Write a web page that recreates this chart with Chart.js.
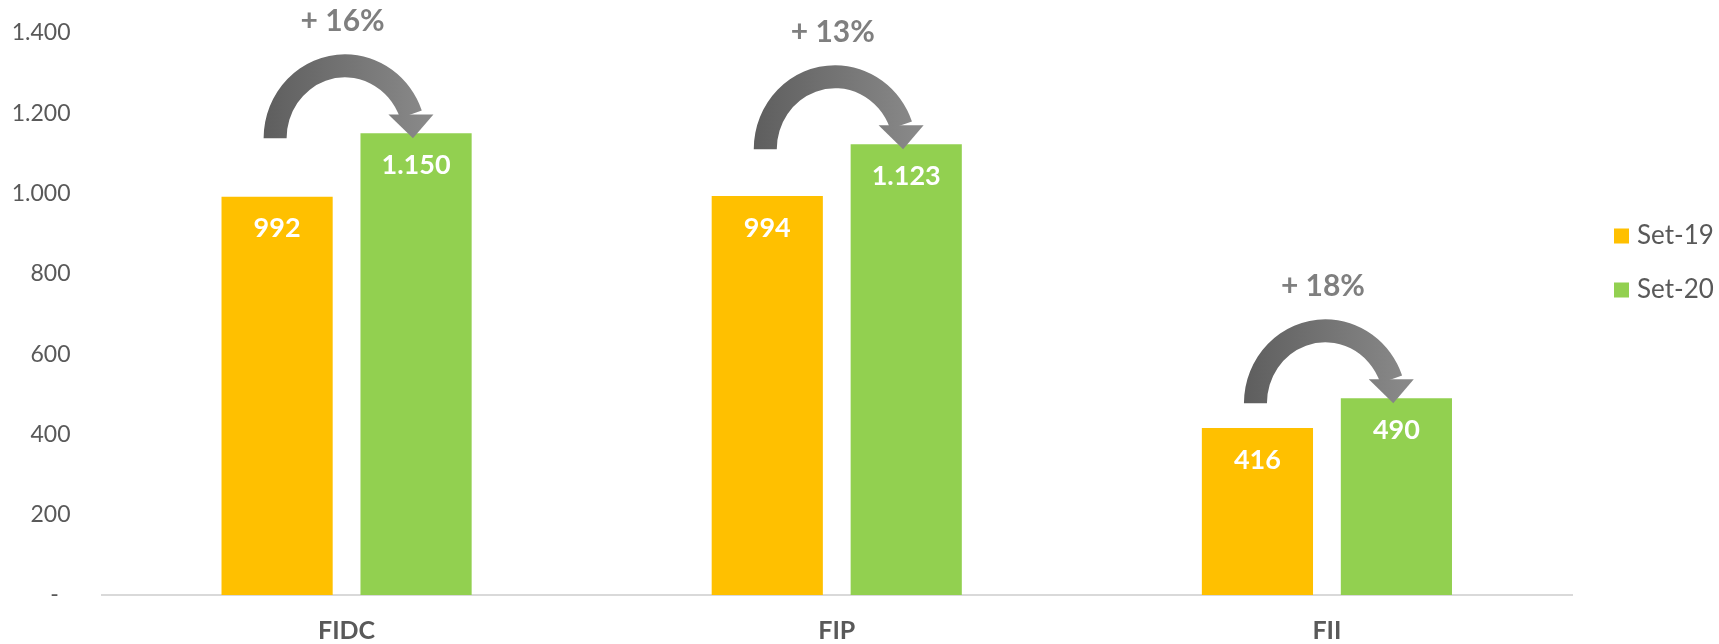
<!DOCTYPE html>
<html>
<head>
<meta charset="utf-8">
<script src="https://cdn.jsdelivr.net/npm/chart.js@4.4.1/dist/chart.umd.min.js"></script>
<style>
  html, body { margin: 0; padding: 0; background: #fff; }
  #wrap { width: 1719px; height: 644px; }
</style>
</head>
<body>
<div id="wrap"><canvas id="grafico"></canvas></div>
<script>
const categorias = ['FIDC', 'FIP', 'FII']
const set19 = [992, 994, 416]
const set20 = [1150, 1123, 490]
const crescimento = ['+ 16%', '+ 13%', '+ 18%']
const yTicks = ['-  ', '200', '400', '600', '800', '1.000', '1.200', '1.400']

const FONTE = 'Lato, Calibri, Carlito, sans-serif'
const CINZA = '#595959'

// formata no padrão brasileiro (1.150)
function fmt(v) {
  return String(v).replace(/\B(?=(\d{3})+(?!\d))/g, '.')
}

// seta curva do Excel
function seta(ctx, x0, x1, y) {
  const t = 11.5, ry = 72.5, ang = 0.337
  const rx = (x1 - x0) / 1.96
  const cx = x0 + rx
  const ex = cx + rx * Math.cos(ang), ey = y - ry * Math.sin(ang)
  const g = ctx.createLinearGradient(x0 - t, 0, x1 + t, 0)
  g.addColorStop(0, '#5e5e5e')
  g.addColorStop(1, '#888888')
  ctx.fillStyle = g
  ctx.beginPath()
  ctx.ellipse(cx, y, rx + t, ry + t, 0, Math.PI, 2 * Math.PI - ang)
  ctx.ellipse(cx, y, rx - t, ry - t, 0, 2 * Math.PI - ang, Math.PI, true)
  ctx.closePath()
  ctx.fill()
  ctx.beginPath()
  ctx.moveTo(ex - 22.5, ey)
  ctx.lineTo(ex + 22.5, ey)
  ctx.lineTo(ex + 2, y)
  ctx.closePath()
  ctx.fill()
  return { cx, top: y - ry - t }
}

const rotulos = {
  id: 'rotulos',
  afterDatasetsDraw(chart) {
    const ctx = chart.ctx
    ctx.save()
    ctx.font = 'bold 27px ' + FONTE
    ctx.fillStyle = '#fff'
    ctx.textAlign = 'center'
    ctx.textBaseline = 'middle'
    chart.data.datasets.forEach((ds, d) => {
      chart.getDatasetMeta(d).data.forEach((bar, i) => {
        ctx.fillText(fmt(ds.data[i]), bar.x, bar.y + 32)
      })
    })

    // setas e percentuais
    const m0 = chart.getDatasetMeta(0).data
    const m1 = chart.getDatasetMeta(1).data
    crescimento.forEach((txt, i) => {
      const s = seta(ctx, m0[i].x - 2, m1[i].x - 4, m1[i].y + 5)
      ctx.font = 'bold 30px ' + FONTE
      ctx.fillStyle = '#7f7f7f'
      ctx.fillText(txt, chart.scales.x.getPixelForValue(i) - 4, s.top - 33)
    })
    ctx.restore()
  }
}

const legenda = {
  id: 'legenda',
  afterDraw(chart) {
    const ctx = chart.ctx
    const x = chart.chartArea.right + 42
    ctx.save()
    ctx.font = '26px ' + FONTE
    ctx.textBaseline = 'middle'
    ctx.textAlign = 'left'
    chart.data.datasets.forEach((ds, d) => {
      const y = 236 + d * 54
      ctx.fillStyle = ds.backgroundColor
      ctx.fillRect(x, y - 7.5, 15, 15)
      ctx.fillStyle = CINZA
      ctx.fillText(ds.label, x + 23, y)
    })
    ctx.restore()
  }
}

const config = {
  type: 'bar',
  data: {
    labels: categorias,
    datasets: [
      { label: 'Set-19', data: set19, backgroundColor: '#FFC000' },
      { label: 'Set-20', data: set20, backgroundColor: '#92D050' }
    ]
  },
  options: {
    responsive: true,
    maintainAspectRatio: false,
    animation: false,
    categoryPercentage: 0.567,
    barPercentage: 0.8,
    layout: { padding: { top: 33, right: 147, left: 13, bottom: 0 } },
    plugins: {
      legend: { display: false },
      tooltip: { enabled: false }
    },
    scales: {
      x: {
        grid: { display: false, drawTicks: false },
        border: { color: '#d9d9d9', width: 2 },
        afterFit: s => { s.height = 49; s.paddingTop = 0; s.paddingBottom = 0 },
        ticks: {
          color: CINZA,
          padding: 21,
          font: { family: FONTE, size: 25, weight: 'bold' }
        }
      },
      y: {
        min: 0,
        max: 1400,
        grid: { display: false, drawTicks: false },
        border: { display: false },
        afterFit: s => { s.width = 88.5; s.paddingTop = 0; s.paddingBottom = 0 },
        ticks: {
          stepSize: 200,
          color: CINZA,
          padding: 31,
          font: { family: FONTE, size: 23 },
          callback: (v, i) => yTicks[i]
        }
      }
    }
  },
  plugins: [rotulos, legenda]
}

new Chart(document.getElementById('grafico'), config)
</script>
</body>
</html>
